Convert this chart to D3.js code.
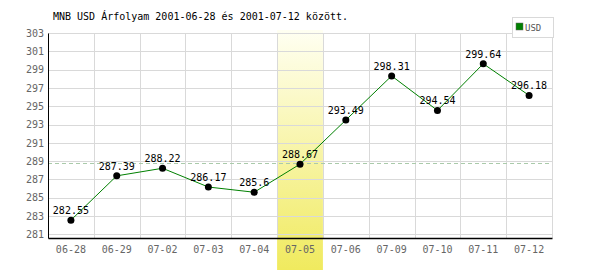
<!DOCTYPE html>
<html>
<head>
<meta charset="utf-8">
<script src="https://cdn.jsdelivr.net/npm/d3@7"></script>
<style>
  body { margin: 0; background: #fff; }
  svg { display: block; }
  text { font-family: "DejaVu Sans Mono", monospace; }
</style>
</head>
<body>
<div id="chart"></div>
<script>
const days = ["06-28", "06-29", "07-02", "07-03", "07-04", "07-05", "07-06", "07-09", "07-10", "07-11", "07-12"];
const rates = [282.55, 287.39, 288.22, 286.17, 285.6, 288.67, 293.49, 298.31, 294.54, 299.64, 296.18];
const yTicks = [281, 283, 285, 287, 289, 291, 293, 295, 297, 299, 301, 303];
const refRate = 288.8;
const highlightDay = "07-05";
const title = "MNB USD Árfolyam 2001-06-28 és 2001-07-12 között.";
const seriesName = "USD";

const width = 600, height = 270;
const margin = { top: 33, right: 48, bottom: 32, left: 48 };

const svg = d3.select("#chart").append("svg")
  .attr("width", width)
  .attr("height", height);

const x = d3.scaleBand()
  .domain(days)
  .range([margin.left, width - margin.right]);

const y = d3.scaleLinear()
  .domain([280.6, 303])
  .range([height - margin.bottom, margin.top]);

const grad = svg.append("defs").append("linearGradient")
  .attr("id", "hl")
  .attr("x1", 0).attr("y1", 0).attr("x2", 0).attr("y2", 1);
grad.append("stop").attr("offset", "0%").attr("stop-color", "#fffff2");
grad.append("stop").attr("offset", "100%").attr("stop-color", "#f0ea5e");

// highlighted day column
svg.append("rect")
  .attr("x", x(highlightDay))
  .attr("y", 30)
  .attr("width", x.bandwidth())
  .attr("height", height - 30)
  .attr("fill", "url(#hl)");

// grid
const grid = svg.append("g").attr("stroke", "#d9d9d9").attr("shape-rendering", "crispEdges");
grid.selectAll(".h")
  .data(yTicks)
  .join("line")
  .attr("x1", margin.left)
  .attr("x2", width - margin.right)
  .attr("y1", d => Math.round(y(d)) + 0.5)
  .attr("y2", d => Math.round(y(d)) + 0.5);
grid.selectAll(".v")
  .data(days.slice(1).map(d => x(d)).concat([width - margin.right]))
  .join("line")
  .attr("x1", d => Math.round(d) + 0.5)
  .attr("x2", d => Math.round(d) + 0.5)
  .attr("y1", margin.top)
  .attr("y2", height - margin.bottom);

// reference dashed line
svg.append("line")
  .attr("x1", margin.left)
  .attr("x2", width - margin.right)
  .attr("y1", Math.round(y(refRate)) + 0.5)
  .attr("y2", Math.round(y(refRate)) + 0.5)
  .attr("stroke", "#aacaaa")
  .attr("stroke-dasharray", "4,3");

// axes
svg.append("g")
  .attr("transform", `translate(${margin.left},0)`)
  .call(d3.axisLeft(y).tickValues(yTicks).tickSize(0).tickPadding(4))
  .call(g => g.select(".domain").attr("stroke", "#000"))
  .call(g => g.selectAll("text").attr("fill", "#666").attr("font-size", 10)
    .attr("font-family", "DejaVu Sans Mono, monospace"));

svg.append("g")
  .attr("transform", `translate(0,${height - margin.bottom})`)
  .call(d3.axisBottom(x).tickSize(0).tickPadding(8))
  .call(g => g.select(".domain").attr("stroke", "#000").attr("stroke-width", 1.5))
  .call(g => g.selectAll("text").attr("fill", "#666").attr("font-size", 10)
    .attr("font-family", "DejaVu Sans Mono, monospace"));

// series line
const cx = d => x(d) + x.bandwidth() / 2;
svg.append("path")
  .datum(rates)
  .attr("fill", "none")
  .attr("stroke", "#008000")
  .attr("stroke-width", 1)
  .attr("d", d3.line().x((d, i) => cx(days[i])).y(d => y(d)));

svg.append("g")
  .selectAll("circle")
  .data(rates)
  .join("circle")
  .attr("cx", (d, i) => cx(days[i]))
  .attr("cy", d => y(d))
  .attr("r", 3.5)
  .attr("fill", "#000");

svg.append("g")
  .selectAll("text")
  .data(rates)
  .join("text")
  .attr("x", (d, i) => cx(days[i]))
  .attr("y", d => y(d) - 6)
  .attr("text-anchor", "middle")
  .attr("font-size", 10)
  .attr("fill", "#000")
  .text(d => d);

// title
svg.append("text")
  .attr("x", 53)
  .attr("y", 20)
  .attr("font-size", 10)
  .attr("fill", "#000")
  .text(title);

// legend
const legend = svg.append("g").attr("transform", "translate(512,17)");
legend.append("rect")
  .attr("x", 0.5).attr("y", 0.5)
  .attr("width", 41).attr("height", 20)
  .attr("fill", "#fff")
  .attr("stroke", "#d9d9d9");
legend.append("rect")
  .attr("x", 4).attr("y", 6)
  .attr("width", 7).attr("height", 7)
  .attr("fill", "#008000")
  .attr("stroke", "#666")
  .attr("stroke-width", 0.5);
legend.append("text")
  .attr("x", 13).attr("y", 13.5)
  .attr("font-size", 9)
  .attr("font-family", "DejaVu Sans, sans-serif")
  .attr("fill", "#555")
  .text(seriesName);
</script>
</body>
</html>
